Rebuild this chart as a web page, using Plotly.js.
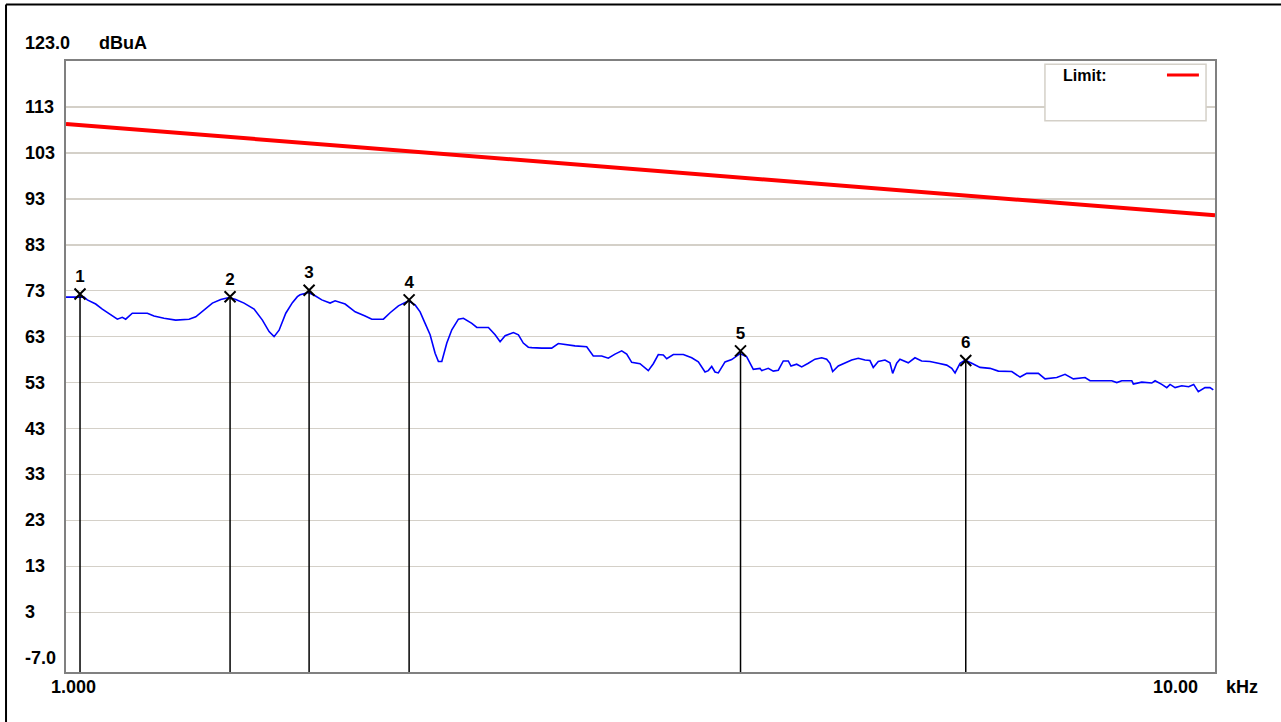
<!DOCTYPE html>
<html>
<head>
<meta charset="utf-8">
<script src="https://cdn.plot.ly/plotly-3.0.1.min.js"></script>
<style>html,body{margin:0;padding:0;background:#fff;}#chart{width:1281px;height:722px;}</style>
</head>
<body>
<div id="chart"></div>
<script>
// Frequency (kHz) and level (dBuA) of the measured trace
const traceFreq = [1.000,1.0367,1.0436,1.0613,1.0755,1.0937,1.1084,1.1194,1.1271,1.1421,1.1771,1.1928,1.2170,1.2459,1.2797,1.2970,1.3188,1.3409,1.3637,1.3866,1.4053,1.4288,1.4578,1.4823,1.5023,1.5174,1.5327,1.5534,1.5741,1.5899,
1.5986,1.6254,1.6474,1.6697,1.6977,1.7148,1.7496,1.7850,1.8211,1.8457,1.8891,1.9146,1.9467,1.9861,2.0129,2.0332,2.0537,2.0744,2.0953,2.1092,2.1236,2.1450,2.1666,2.1954,2.2176,2.2552,2.2779,2.3315,2.3630,2.3868,2.4109,2.4513,2.4760,2.5003,2.5255,
2.5428,2.5942,2.6467,2.6820,2.7275,2.7733,2.8391,2.8768,2.9257,2.9646,3.0047,3.0453,3.0760,3.1070,3.1591,3.2121,3.2445,3.2772,3.3102,3.3329,3.3773,3.4456,3.5041,3.5508,3.5988,3.6226,3.6474,3.6716,3.6960,3.7459,3.7965,3.8602,3.9124,3.9644,4.0179,
4.0316,4.0852,4.1264,4.1680,4.2099,4.2523,4.2754,4.3245,4.3681,4.4262,4.4860,4.5466,4.5924,4.6228,4.6479,4.7004,4.7639,4.8282,4.8925,4.9586,5.0085,5.0417,5.0925,5.1614,5.2133,5.2416,5.2838,5.3188,5.4080,5.4811,5.5552,5.6486,5.7434,5.8409,5.9007,5.9398,5.9996,6.0600,6.1418,6.2449,6.3713,
6.4781,6.6546,6.7663,6.8576,7.0188,7.1136,7.2824,7.4045,7.5288,7.7072,7.7848,8.1312,8.2131,8.2958,8.4638,8.4908,8.6349,8.8098,8.8684,8.9882,9.0787,9.1391,9.2312,9.3560,9.4860,9.5816,9.6711,9.8017,9.9003,9.9660];
const traceLevel = [71.6,71.6,71.0,70.1,69.0,67.7,66.8,67.2,66.8,68.1,68.1,67.5,67.0,66.6,66.8,67.3,68.8,70.3,71.1,71.5,71.1,70.3,69.0,66.6,64.1,63.0,64.4,68.1,70.4,71.7,
72.1,72.6,71.9,71.0,70.3,70.8,70.1,68.4,67.5,66.8,66.8,68.2,69.7,70.8,69.9,68.4,65.9,63.4,59.4,57.6,57.6,61.6,64.5,66.8,67.0,65.9,65.0,65.0,63.4,61.9,63.2,63.9,63.4,61.6,60.7,
60.6,60.5,60.5,61.5,61.2,61.0,60.8,58.8,58.8,58.3,59.2,59.9,59.2,57.4,57.1,55.6,57.1,59.1,59.0,58.2,59.1,59.1,58.4,57.5,55.3,55.6,56.5,55.3,55.1,57.5,58.0,59.3,58.6,55.9,56.1,
55.6,56.1,55.5,55.7,57.7,57.7,56.6,57.0,56.4,57.2,58.1,58.4,58.1,57.2,55.4,56.6,57.3,57.9,58.3,57.9,57.8,56.3,57.6,57.9,57.3,55.0,57.2,58.1,57.3,58.4,57.7,57.6,57.2,56.8,56.1,55.1,57.2,57.9,57.2,56.3,56.1,
55.5,55.4,54.2,55.0,55.0,53.8,54.1,54.8,53.8,54.1,53.4,53.4,53.0,53.4,53.4,52.7,53.1,52.9,53.4,52.6,51.9,52.6,51.9,52.3,52.1,52.6,51.0,51.9,51.9,51.4];

// Limit line (kHz, dBuA)
const limitFreq = [1.0, 10.0];
const limitLevel = [109.3, 89.4];

// Markers
const markerFreq = [1.0285, 1.3893, 1.6277, 1.9889, 3.8641, 6.0685];
const markerLevel = [72.3, 71.7, 73.1, 71.0, 59.9, 57.8];
const markerLabels = ["1", "2", "3", "4", "5", "6"];

// Axis labels
const yTickVals = [3, 13, 23, 33, 43, 53, 63, 73, 83, 93, 103, 113];
const yTickText = ["3", "13", "23", "33", "43", "53", "63", "73", "83", "93", "103", "113"];
const yBottomLabel = "-7.0";
const yBottomVal = -7;
const yTopLabel = "123.0";
const yUnit = "dBuA";
const xStartLabel = "1.000";
const xEndLabel = "10.00";
const xUnit = "kHz";
const legendLabel = "Limit:";

const yMin = -10, yMax = 123;
const lblFont = {family: "Liberation Sans, Arial, sans-serif", size: 18, color: "#000", weight: "bold"};

// vertical marker lines built from marker data
const vx = [], vy = [];
markerFreq.forEach((f, i) => { vx.push(f, f, null); vy.push(yMin, markerLevel[i], null); });

const traces = [
  {x: limitFreq, y: limitLevel, mode: "lines", line: {color: "#ff0000", width: 4}, hoverinfo: "skip"},
  {x: traceFreq, y: traceLevel, mode: "lines", line: {color: "#0000ff", width: 1.6}, hoverinfo: "skip"},
  {x: vx, y: vy, mode: "lines", line: {color: "#000", width: 1.5}, hoverinfo: "skip"},
  {x: markerFreq, y: markerLevel, mode: "markers+text", text: markerLabels, textposition: "top center",
   textfont: {family: "Liberation Sans, Arial, sans-serif", size: 17, color: "#000", weight: "bold"},
   marker: {symbol: "x-thin-open", size: 11, line: {color: "#000", width: 2}, color: "#000"}, hoverinfo: "skip"}
];

const annotations = [];
yTickVals.forEach((v, i) => annotations.push({x: -0.0374, xref: "paper", xanchor: "left", y: v, yref: "y", yanchor: "middle", text: yTickText[i], showarrow: false, font: lblFont}));
annotations.push({x: -0.0374, xref: "paper", xanchor: "left", y: yBottomVal, yref: "y", yanchor: "middle", text: yBottomLabel, showarrow: false, font: lblFont});
annotations.push({x: -0.0374, xref: "paper", xanchor: "left", y: 1.029, yref: "paper", yanchor: "middle", text: yTopLabel, showarrow: false, font: lblFont});
annotations.push({x: 0.0270, xref: "paper", xanchor: "left", y: 1.029, yref: "paper", yanchor: "middle", text: yUnit, showarrow: false, font: lblFont});
annotations.push({x: 0.0061, xref: "paper", xanchor: "center", y: -0.0245, yref: "paper", yanchor: "middle", text: xStartLabel, showarrow: false, font: lblFont});
annotations.push({x: 0.9658, xref: "paper", xanchor: "center", y: -0.0245, yref: "paper", yanchor: "middle", text: xEndLabel, showarrow: false, font: lblFont});
annotations.push({x: 1.0235, xref: "paper", xanchor: "center", y: -0.0245, yref: "paper", yanchor: "middle", text: xUnit, showarrow: false, font: lblFont});
annotations.push({x: 0.866, xref: "paper", xanchor: "left", y: 0.977, yref: "paper", yanchor: "middle", text: legendLabel, showarrow: false, font: {family: "Liberation Sans, Arial, sans-serif", size: 16, color: "#000", weight: "bold"}});

const shapes = [
  {type: "rect", xref: "paper", yref: "paper", x0: 0.852, x1: 0.9922, y0: 0.9023, y1: 0.9946, fillcolor: "#fff", line: {color: "#d4d0c8", width: 1.5}, layer: "above"},
  {type: "line", xref: "paper", yref: "paper", x0: 0.9582, x1: 0.986, y0: 0.977, y1: 0.977, line: {color: "#ff0000", width: 3}, layer: "above"},
  {type: "line", xref: "paper", yref: "paper", x0: -0.0522, x1: -0.0522, y0: -0.09, y1: 1.0925, line: {color: "#000", width: 2}},
  {type: "line", xref: "paper", yref: "paper", x0: -0.0522, x1: 1.06, y0: 1.0925, y1: 1.0925, line: {color: "#000", width: 2}}
];

const layout = {
  width: 1281, height: 722,
  margin: {l: 66, r: 66, t: 61, b: 50, pad: 0},
  paper_bgcolor: "#fff", plot_bgcolor: "#fff",
  showlegend: false,
  xaxis: {type: "log", range: [0, 1], showgrid: false, zeroline: false, showticklabels: false, ticks: "",
          showline: true, mirror: true, linecolor: "#808080", linewidth: 2},
  yaxis: {range: [yMin, yMax], tickvals: yTickVals, showticklabels: false, ticks: "", zeroline: false,
          gridcolor: "#d4d0c8", gridwidth: 1.5, showline: true, mirror: true, linecolor: "#808080", linewidth: 2},
  annotations: annotations,
  shapes: shapes
};

Plotly.newPlot("chart", traces, layout, {displayModeBar: false, staticPlot: true});
</script>
</body>
</html>
